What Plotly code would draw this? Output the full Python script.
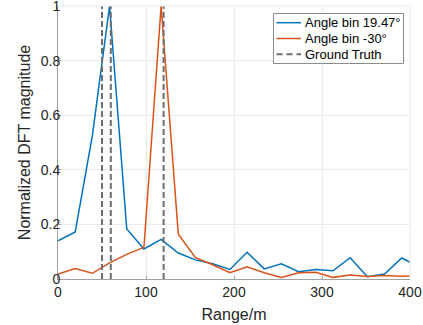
import plotly.graph_objects as go

step = 19.53
range_m = [round(i * step, 2) for i in range(22)]
blue_vals = [0.140, 0.172, 0.525, 1.000, 0.183, 0.110, 0.145, 0.095, 0.070, 0.056,
             0.035, 0.098, 0.037, 0.056, 0.027, 0.035, 0.030, 0.078, 0.008, 0.018,
             0.077, 0.045]
orange_vals = [0.018, 0.038, 0.021, 0.059, 0.090, 0.116, 1.000, 0.164, 0.078, 0.052,
               0.023, 0.045, 0.023, 0.006, 0.023, 0.025, 0.006, 0.015, 0.009, 0.013,
               0.010, 0.012]
ground_truth = [50, 60, 120]
series_names = ["Angle bin 19.47°", "Angle bin -30°", "Ground Truth"]
series_colors = ["#0072BD", "#D95319", "#6e6e6e"]

gt_x, gt_y = [], []
for g in ground_truth:
    gt_x += [g, g, None]
    gt_y += [0, 1, None]

fig = go.Figure()
fig.add_trace(go.Scatter(x=range_m, y=blue_vals, mode="lines", name=series_names[0],
                         line=dict(color=series_colors[0], width=1.5)))
fig.add_trace(go.Scatter(x=range_m, y=orange_vals, mode="lines", name=series_names[1],
                         line=dict(color=series_colors[1], width=1.5)))
fig.add_trace(go.Scatter(x=gt_x, y=gt_y, mode="lines", name=series_names[2],
                         line=dict(color=series_colors[2], width=2, dash="6px,3px")))

W, H = 423, 325
L, R, T, B = 58, 13, 6, 46
pw, ph = W - L - R, H - T - B

def px2paper(x, y):
    return (x - L) / pw, (H - B - y) / ph

font = "Liberation Sans, Arial, Helvetica, sans-serif"
fig.update_layout(
    width=W, height=H,
    margin=dict(l=L, r=R, t=T, b=B, autoexpand=False),
    plot_bgcolor="white", paper_bgcolor="white",
    font=dict(family=font, size=14, color="#262626"),
    showlegend=False,
    xaxis=dict(range=[0, 400], tickvals=[0, 100, 200, 300, 400],
               showgrid=True, gridcolor="#ebebeb", gridwidth=1,
               showline=True, linecolor="#a0a0a0", linewidth=1,
               ticks="inside", ticklen=3, tickcolor="#a0a0a0",
               zeroline=False, automargin=False, ticklabeloverflow="allow",
               title=dict(text="Range/m", standoff=10, font=dict(size=16))),
    yaxis=dict(range=[0, 1], tickvals=[0, 0.2, 0.4, 0.6, 0.8, 1],
               ticktext=["0", "0.2", "0.4", "0.6", "0.8", "1"],
               showgrid=True, gridcolor="#ebebeb", gridwidth=1,
               showline=True, linecolor="#a0a0a0", linewidth=1,
               ticks="inside", ticklen=3, tickcolor="#a0a0a0",
               zeroline=False, automargin=False, ticklabeloverflow="allow",
               ticklabelstandoff=-6,
               title=dict(text="Normalized DFT magnitude", standoff=6, font=dict(size=16))),
)
fig.add_shape(type="line", xref="paper", yref="paper", x0=0, x1=1, y0=1, y1=1,
              line=dict(color="#ebebeb", width=1))
fig.add_shape(type="line", xref="paper", yref="paper", x0=1, x1=1, y0=0, y1=1,
              line=dict(color="#ebebeb", width=1))

# custom legend box (MATLAB style)
bx0, by0 = px2paper(273.5, 63.5)
bx1, by1 = px2paper(403.5, 13.5)
fig.add_shape(type="rect", xref="paper", yref="paper", x0=bx0, x1=bx1, y0=by0, y1=by1,
              fillcolor="white", line=dict(color="#8c8c8c", width=1), layer="above")
row_y = [22.7, 38.5, 54.2]
dashes = ["solid", "solid", "6px,4px"]
widths = [1.5, 1.5, 2]
for name, col, ry, d, w in zip(series_names, series_colors, row_y, dashes, widths):
    lx0, ly = px2paper(276.5, ry)
    lx1, _ = px2paper(301, ry)
    fig.add_shape(type="line", xref="paper", yref="paper", x0=lx0, x1=lx1, y0=ly, y1=ly,
                  line=dict(color=col, width=w, dash=d), layer="above")
    tx, _ = px2paper(303.5, ry)
    fig.add_annotation(xref="paper", yref="paper", x=tx, y=ly, text=name, showarrow=False,
                       xanchor="left", yanchor="middle", font=dict(size=13, color="#000000"),
                       borderpad=0)

fig.write_html("out.html", post_script="document.body.style.margin='0';",
               config={"displayModeBar": False})
